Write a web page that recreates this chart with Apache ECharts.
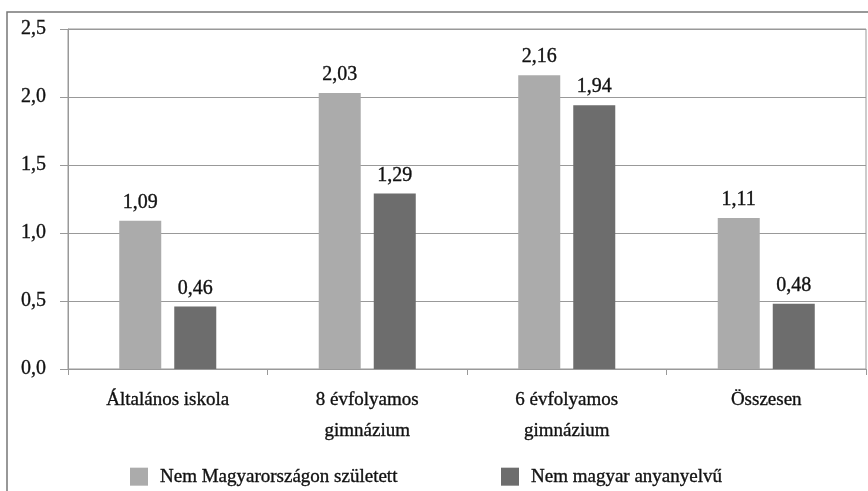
<!DOCTYPE html>
<html>
<head>
<meta charset="utf-8">
<script src="https://cdn.jsdelivr.net/npm/echarts@6/dist/echarts.min.js"></script>
<style>html,body{margin:0;padding:0;background:#fff;}#c{width:868px;height:491px;}</style>
</head>
<body>
<div id="c"></div>
<script>
const categories = ['Általános iskola', '8 évfolyamos\ngimnázium', '6 évfolyamos\ngimnázium', 'Összesen'];
const seriesNames = ['Nem Magyarországon született', 'Nem magyar anyanyelvű'];
const bornAbroad = [1.09, 2.03, 2.16, 1.11];
const nonHungarianNative = [0.46, 1.29, 1.94, 0.48];
const yTicks = { min: 0, max: 2.5, interval: 0.5 };

const FONT = '"Liberation Serif", "DejaVu Serif", serif';
const TXT = '#111';
const thick = { textBorderColor: '#111', textBorderWidth: 0.35 };
const chart = echarts.init(document.getElementById('c'), null, { renderer: 'canvas' });
const fmt2 = v => v.toFixed(2).replace('.', ',');
const legendText = Object.assign({ fontFamily: FONT, fontSize: 19, color: TXT, padding: [0, 0, 0, 7] }, thick);
chart.setOption({
  animation: false,
  textStyle: { fontFamily: FONT, color: TXT },
  graphic: [{
    type: 'rect', shape: { x: 7, y: 12, width: 900, height: 500 },
    style: { fill: 'none', stroke: '#777', lineWidth: 1.5 }, silent: true, z: 0
  }],
  grid: { left: 68, right: 2, top: 29, bottom: 122, show: true, borderColor: '#999', borderWidth: 1, backgroundColor: 'transparent' },
  legend: [{
    data: [seriesNames[0]], left: 130, top: 467, padding: 0, itemWidth: 18, itemHeight: 18, icon: 'rect',
    textStyle: legendText
  }, {
    data: [seriesNames[1]], left: 501, top: 467, padding: 0, itemWidth: 18, itemHeight: 18, icon: 'rect',
    textStyle: legendText
  }],
  xAxis: {
    type: 'category', data: categories,
    axisLine: { lineStyle: { color: '#999', width: 1 } },
    axisTick: { show: true, length: 6, lineStyle: { color: '#999' } },
    axisLabel: Object.assign({ interval: 0, fontFamily: FONT, fontSize: 19, color: TXT, margin: 16, lineHeight: 31 }, thick)
  },
  yAxis: {
    type: 'value', min: yTicks.min, max: yTicks.max, interval: yTicks.interval,
    axisLine: { show: true, lineStyle: { color: '#999', width: 1 } },
    axisTick: { show: true, length: 8, lineStyle: { color: '#999' } },
    splitLine: { lineStyle: { color: '#999', width: 1 } },
    axisLabel: Object.assign({ fontFamily: FONT, fontSize: 20, color: TXT, margin: 22, formatter: v => v.toFixed(1).replace('.', ',') }, thick)
  },
  series: [{
    name: seriesNames[0], type: 'bar', data: bornAbroad, barWidth: 42, barGap: '31%',
    itemStyle: { color: '#ababab' },
    label: Object.assign({ show: true, position: 'top', distance: 8, fontFamily: FONT, fontSize: 20, color: TXT, formatter: p => fmt2(p.value) }, thick)
  }, {
    name: seriesNames[1], type: 'bar', data: nonHungarianNative, barWidth: 42,
    itemStyle: { color: '#6d6d6d' },
    label: Object.assign({ show: true, position: 'top', distance: 8, fontFamily: FONT, fontSize: 20, color: TXT, formatter: p => fmt2(p.value) }, thick)
  }]
});
</script>
</body>
</html>
